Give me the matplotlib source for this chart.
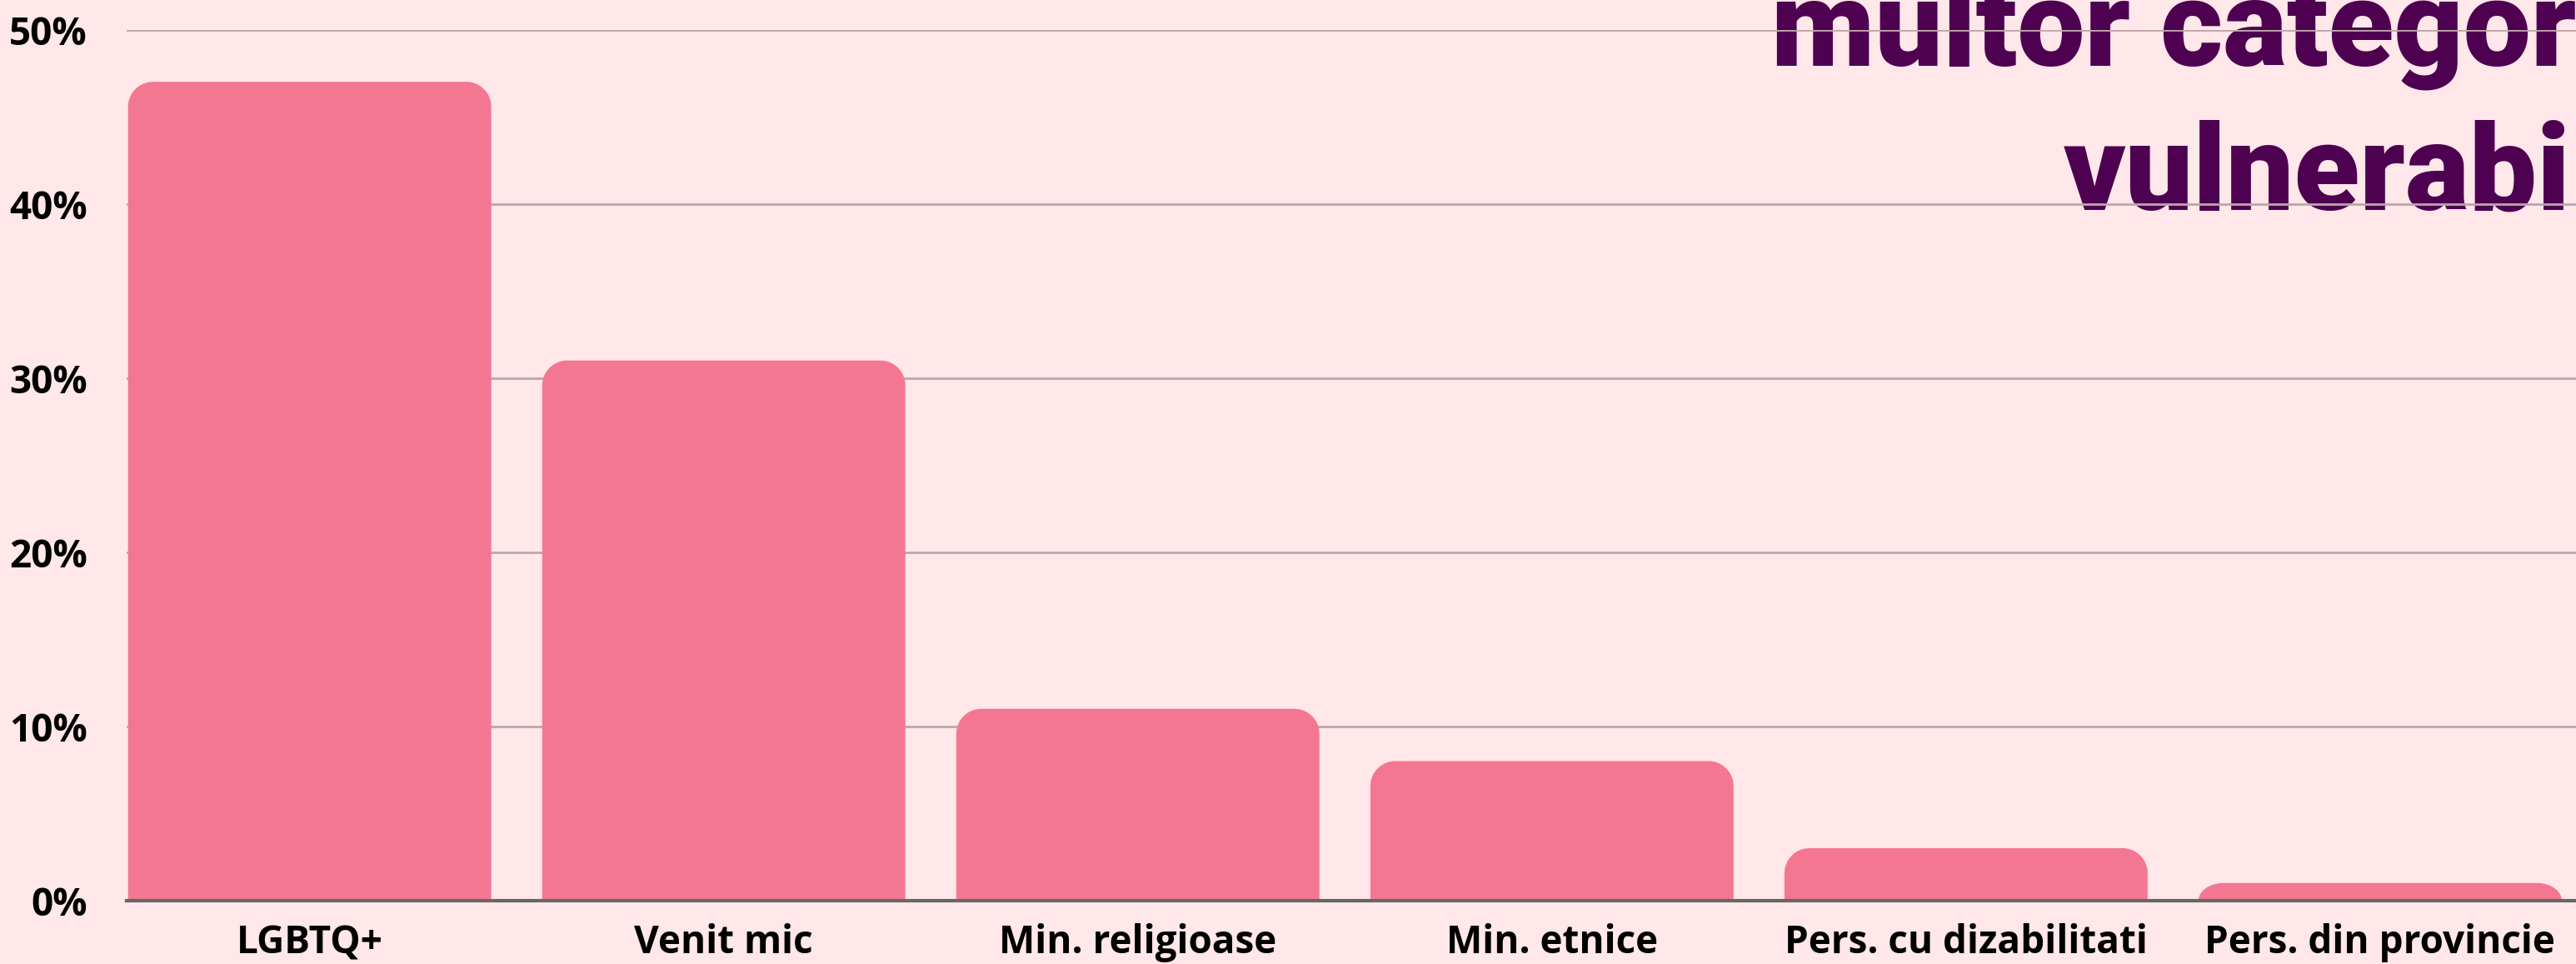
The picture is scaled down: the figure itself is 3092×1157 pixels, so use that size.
import numpy as np
import matplotlib.pyplot as plt
from matplotlib.path import Path
from matplotlib.patches import PathPatch

categories = ["LGBTQ+", "Venit mic", "Min. religioase", "Min. etnice",
              "Pers. cu dizabilitati", "Pers. din provincie"]
values = [47, 31, 11, 8, 3, 1]
yticks = [0, 10, 20, 30, 40, 50]
ytick_labels = ["0%", "10%", "20%", "30%", "40%", "50%"]
title_lines = ["multor categorii", "vulnerabile"]

BG = "#FFE7EA"
BAR = "#F47792"
TITLE = "#4E0150"
GRID = "#BDA7AB"
LABEL_FONT = ["Open Sans", "DejaVu Sans"]
TITLE_FONT = ["Roboto", "DejaVu Sans"]

W, H, DPI = 3092, 1157, 100
fig = plt.figure(figsize=(W / DPI, H / DPI), dpi=DPI, facecolor=BG)
ax = fig.add_axes([152 / W, 76.3 / H, 1 - 152 / W, (1121.5 - 76.3) / H])
ax.set_facecolor(BG)

x = np.arange(len(categories))
bars = ax.bar(x, values, width=0.877, color=BAR, zorder=2)
ax.set_xlim(-0.442, 5.473)
ax.set_ylim(0, 50)

# swap plain rectangles for ones with rounded top corners
px_x = ax.bbox.width / (5.473 + 0.442)
px_y = ax.bbox.height / 50
r_px = 30
for b in bars:
    b.set_visible(False)
    x0, w, h = b.get_x(), b.get_width(), b.get_height()
    rx = r_px / px_x
    ry = min(r_px / px_y, h)
    t = np.linspace(0, np.pi / 2, 20)
    left = np.column_stack([x0 + rx - rx * np.cos(t), h - ry + ry * np.sin(t)])
    right = np.column_stack([x0 + w - rx + rx * np.sin(t), h - ry + ry * np.cos(t)])
    pts = np.vstack([[x0, 0], left, right, [x0 + w, 0], [x0, 0]])
    ax.add_patch(PathPatch(Path(pts, closed=True), facecolor=BAR, edgecolor="none", zorder=2))

ax.set_axisbelow(True)
ax.yaxis.grid(True, color=GRID, linewidth=2)
ax.set_yticks(yticks)
ax.set_yticklabels(ytick_labels)
ax.set_xticks(x)
ax.set_xticklabels(categories)
ax.tick_params(axis="both", length=0, labelsize=33)
ax.tick_params(axis="y", pad=34)
ax.tick_params(axis="x", pad=20)
for lab in ax.get_xticklabels() + ax.get_yticklabels():
    lab.set_fontfamily(LABEL_FONT)
    lab.set_fontweight("bold")
    lab.set_color("black")

for s in ["top", "right", "left"]:
    ax.spines[s].set_visible(False)
ax.spines["bottom"].set_color("#666666")
ax.spines["bottom"].set_linewidth(3)
ax.spines["bottom"].set_zorder(3)

# title, partly cut off by the right edge, sits under the grid
ax.text(2126 / W, 1 - 79 / H, title_lines[0], transform=fig.transFigure,
        ha="left", va="baseline", fontsize=104, fontweight="black",
        family=TITLE_FONT, color=TITLE, clip_on=False, zorder=0.1)
ax.text(2477 / W, 1 - 252 / H, title_lines[1], transform=fig.transFigure,
        ha="left", va="baseline", fontsize=104, fontweight="black",
        family=TITLE_FONT, color=TITLE, clip_on=False, zorder=0.1)

fig.savefig("out.png", dpi=DPI, facecolor=BG)
